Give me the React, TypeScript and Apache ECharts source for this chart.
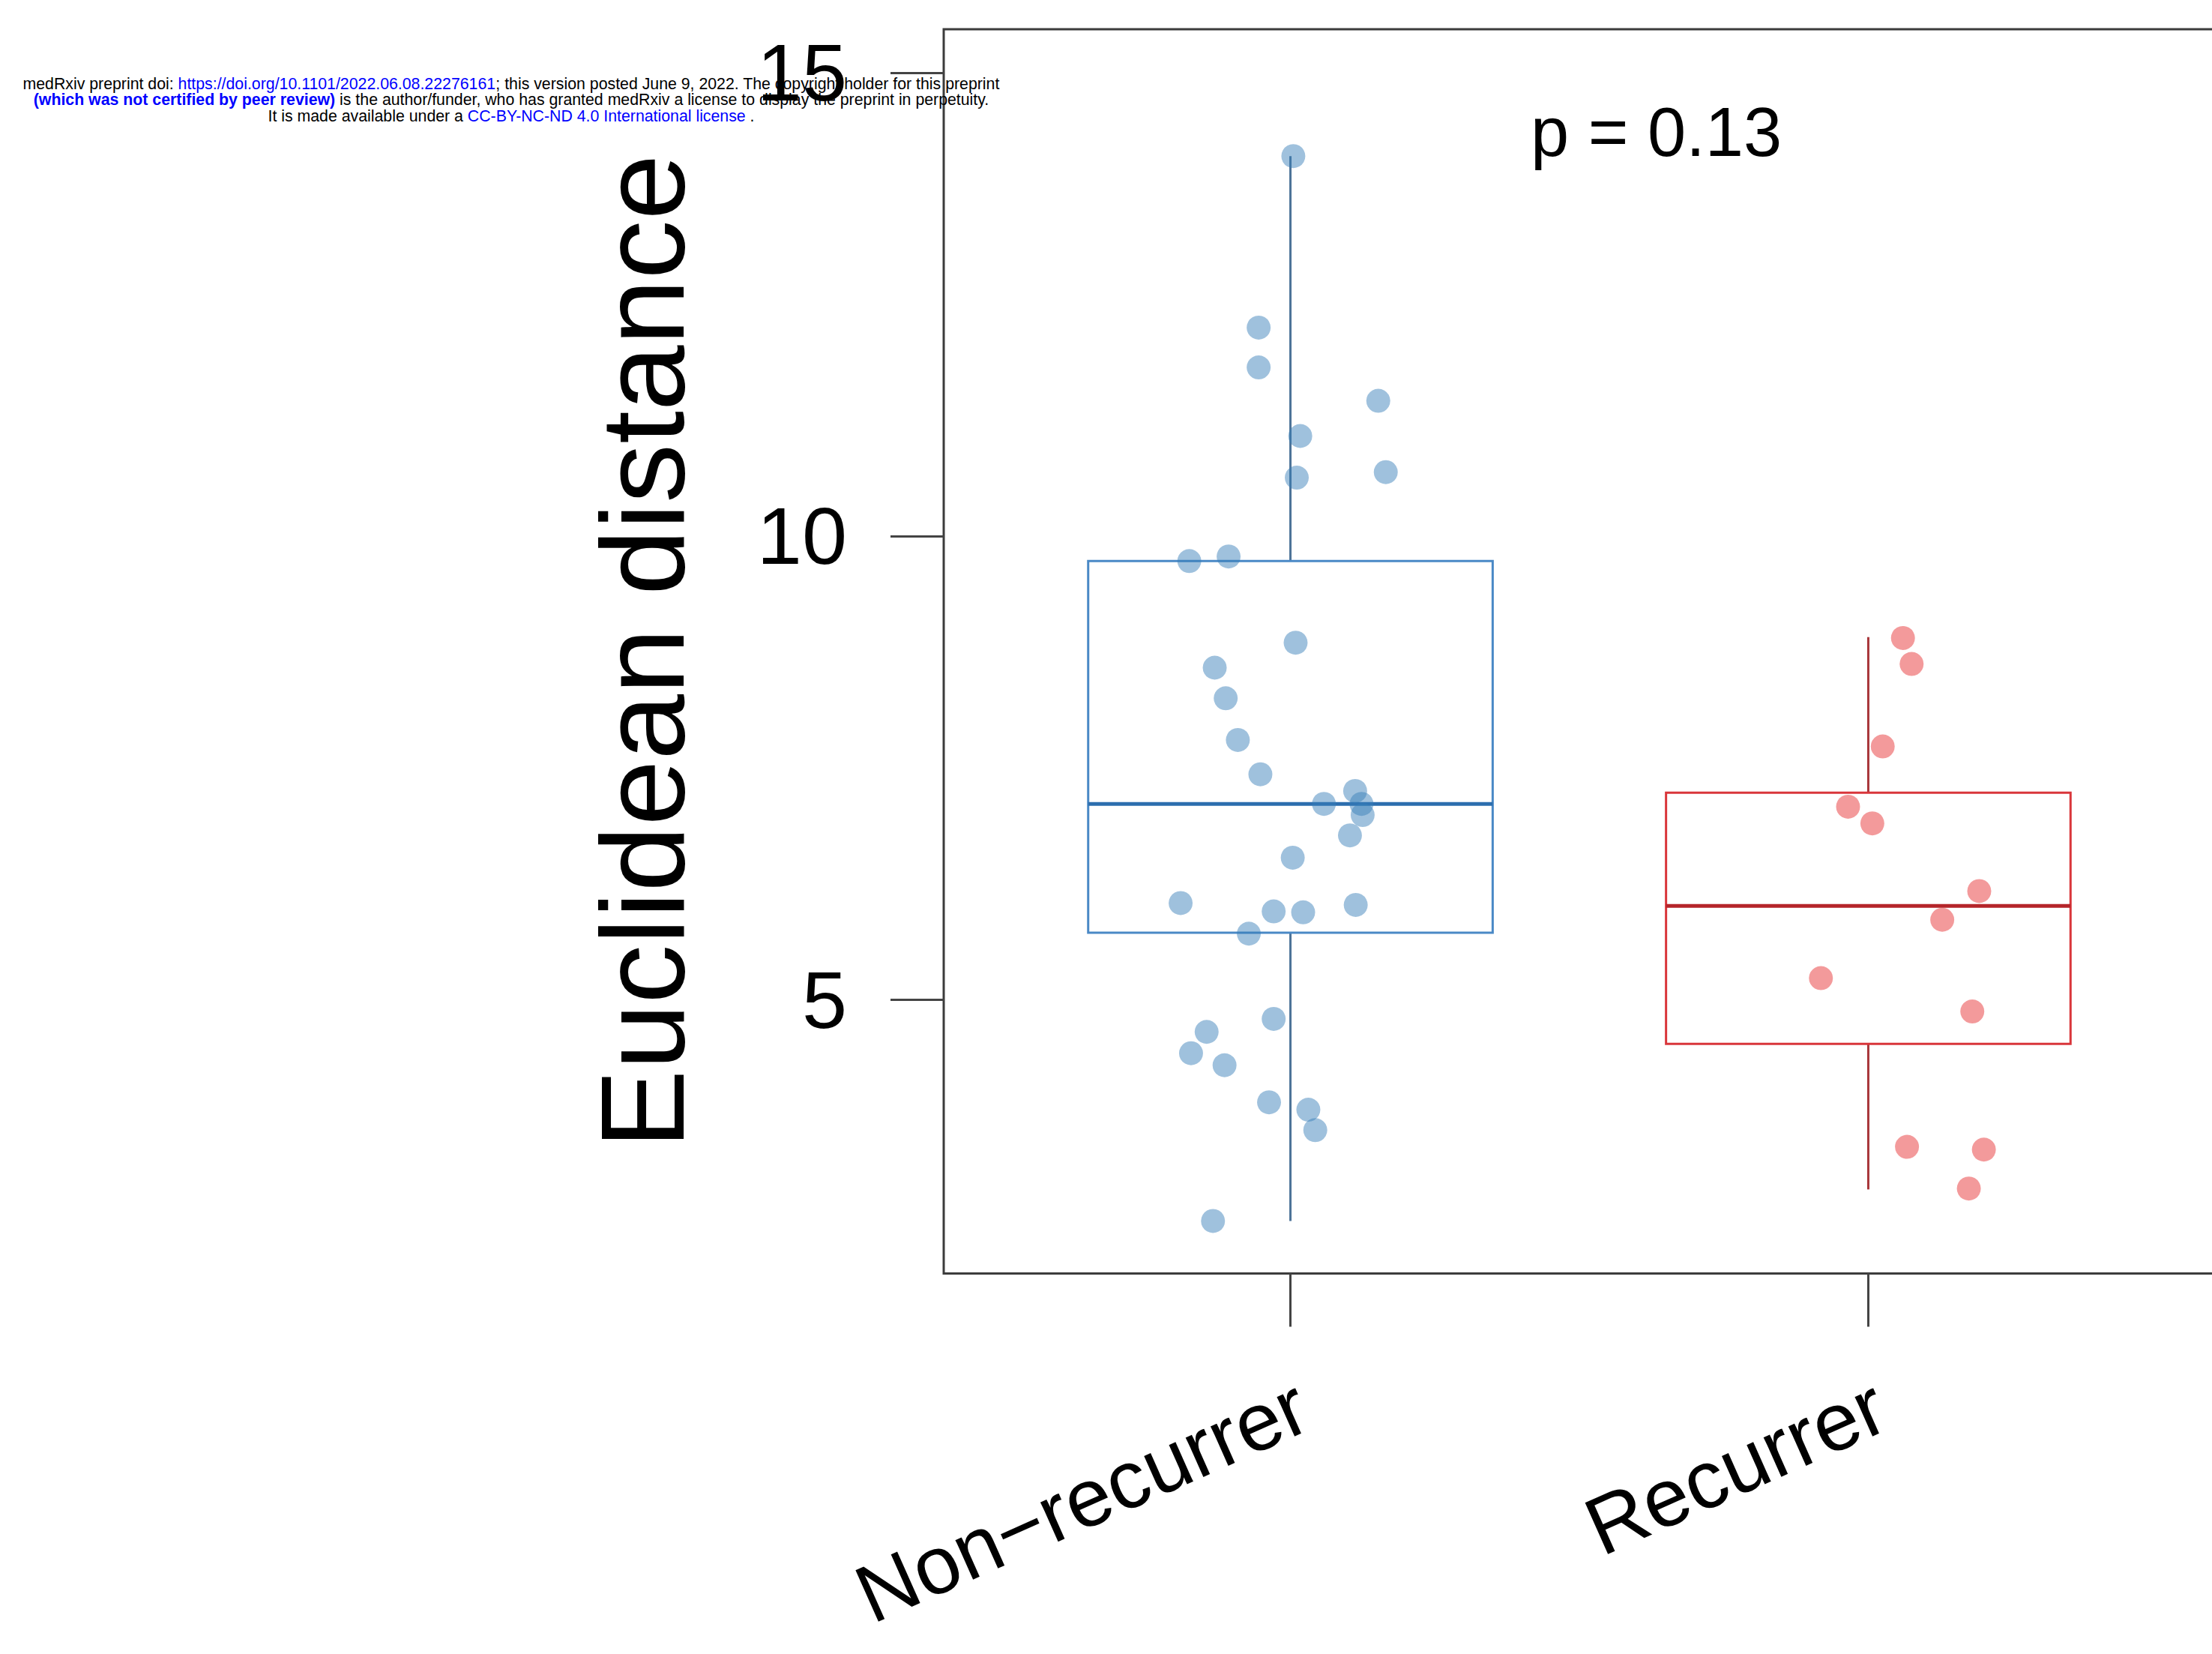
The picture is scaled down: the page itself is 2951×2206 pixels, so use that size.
import React, { useEffect, useRef } from 'react';
import * as echarts from 'echarts';

// ---------- data ----------
const CATEGORIES = ['Non\u2212recurrer', 'Recurrer'];
const CATEGORY_POS = [1, 2];
const Y_TICKS = [5, 10, 15];

// box stats: [min, Q1, median, Q3, max]
const NONREC_BOX = [2.61, 5.72, 7.11, 9.73, 14.1];
const REC_BOX = [2.95, 4.52, 6.01, 7.23, 8.91];

const NONREC_VALUES = [
  14.1, 12.25, 11.82, 11.46, 11.08, 10.63, 10.69, 9.73, 9.78, 8.85, 8.58, 8.25,
  7.8, 7.43, 7.25, 7.11, 7.11, 6.99, 6.77, 6.53, 6.04, 6.02, 5.95, 5.94, 5.71,
  4.79, 4.65, 4.42, 4.29, 3.89, 3.81, 3.59, 2.61,
];
const NONREC_JITTER = [
  0.005, -0.055, -0.055, 0.152, 0.017, 0.011, 0.165, -0.175, -0.107, 0.009,
  -0.131, -0.112, -0.091, -0.052, 0.112, 0.058, 0.123, 0.125, 0.103, 0.004,
  -0.19, 0.113, -0.029, 0.022, -0.072, -0.029, -0.145, -0.172, -0.114, -0.037,
  0.031, 0.043, -0.134,
];
const REC_VALUES = [8.9, 8.62, 7.73, 7.08, 6.9, 6.17, 5.86, 5.23, 4.87, 3.41, 3.38, 2.96];
const REC_JITTER = [0.06, 0.075, 0.025, -0.035, 0.007, 0.192, 0.128, -0.082, 0.18, 0.067, 0.2, 0.174];

const P_LABEL = 'p = 0.13';
const Y_TITLE = 'Euclidean distance';

const HEADER_TEXT =
  '{n|medRxiv preprint doi: }{l|https://doi.org/10.1101/2022.06.08.22276161}{n|; this version posted June 9, 2022. The copyright holder for this preprint}\n' +
  '{lb|(which was not certified by peer review)}{n| is the author/funder, who has granted medRxiv a license to display the preprint in perpetuity.}\n' +
  '{n|It is made available under a }{l|CC-BY-NC-ND 4.0 International license}{n| .}';

// ---------- styles ----------
const FONT = '"Liberation Sans", Arial, Helvetica, sans-serif';
const BOX_WIDTH = 0.7;
const BOX_STYLES = [
  { border: '#4a89c6', median: '#2c6eae', whisker: '#4d7398' },
  { border: '#d9363b', median: '#b5252a', whisker: '#a8363a' },
];
const POINT_COLORS = ['rgba(55,126,184,0.6)', 'rgba(228,26,28,0.55)'];
const HEADER_SIZE = 21.3;

export default function App() {
  const ref = useRef<HTMLDivElement>(null);

  useEffect(() => {
    if (!ref.current) return;
    const chart = echarts.init(ref.current, null, { renderer: 'svg' });

    const boxData = [
      [CATEGORY_POS[0], ...NONREC_BOX],
      [CATEGORY_POS[1], ...REC_BOX],
    ];
    const nonrecPts = NONREC_VALUES.map((v, i) => [CATEGORY_POS[0] + NONREC_JITTER[i], v]);
    const recPts = REC_VALUES.map((v, i) => [CATEGORY_POS[1] + REC_JITTER[i], v]);

    const option: any = {
      animation: false,
      textStyle: { fontFamily: FONT },
      grid: {
        left: 1259,
        top: 39,
        right: -4,
        bottom: 507.5,
        show: true,
        borderColor: '#3c3c3c',
        borderWidth: 3,
        backgroundColor: 'transparent',
        containLabel: false,
        outerBoundsMode: 'none',
      },
      xAxis: {
        type: 'value',
        min: 0.4,
        max: 2.6,
        splitLine: { show: false },
        axisLine: { show: false },
        axisTick: {
          show: true,
          customValues: CATEGORY_POS,
          length: 71,
          lineStyle: { color: '#444', width: 3 },
        },
        axisLabel: {
          customValues: CATEGORY_POS,
          formatter: (v: number) => {
            const idx = CATEGORY_POS.indexOf(Math.round(v));
            return idx >= 0 ? CATEGORIES[idx] : '';
          },
          rotate: 24,
          margin: 178,
          fontSize: 109,
          color: '#000',
          fontFamily: FONT,
          padding: [0, -18, 0, 0],
        },
      },
      yAxis: {
        type: 'value',
        min: 2.043,
        max: 15.469,
        splitLine: { show: false },
        axisLine: { show: false },
        axisTick: {
          show: true,
          customValues: Y_TICKS,
          length: 71,
          lineStyle: { color: '#444', width: 3 },
        },
        axisLabel: {
          customValues: Y_TICKS,
          margin: 129,
          fontSize: 108,
          color: '#000',
          fontFamily: FONT,
        },
        name: Y_TITLE,
        nameLocation: 'middle',
        nameGap: 323,
        nameTextStyle: { fontSize: 158, color: '#000', fontFamily: FONT },
      },
      series: [
        {
          type: 'custom',
          data: boxData,
          encode: { x: 0, y: [1, 2, 3, 4, 5] },
          z: 2,
          renderItem: (params: any, api: any) => {
            const x = api.value(0);
            const mn = api.value(1);
            const q1 = api.value(2);
            const md = api.value(3);
            const q3 = api.value(4);
            const mx = api.value(5);
            const halfW = api.size([BOX_WIDTH, 0])[0] / 2;
            const pMin = api.coord([x, mn]);
            const pQ1 = api.coord([x, q1]);
            const pMd = api.coord([x, md]);
            const pQ3 = api.coord([x, q3]);
            const pMax = api.coord([x, mx]);
            const st = BOX_STYLES[params.dataIndex];
            return {
              type: 'group',
              children: [
                {
                  type: 'line',
                  shape: { x1: pMax[0], y1: pMax[1], x2: pQ3[0], y2: pQ3[1] },
                  style: { stroke: st.whisker, lineWidth: 3 },
                },
                {
                  type: 'line',
                  shape: { x1: pQ1[0], y1: pQ1[1], x2: pMin[0], y2: pMin[1] },
                  style: { stroke: st.whisker, lineWidth: 3 },
                },
                {
                  type: 'rect',
                  shape: { x: pQ3[0] - halfW, y: pQ3[1], width: 2 * halfW, height: pQ1[1] - pQ3[1] },
                  style: { fill: 'none', stroke: st.border, lineWidth: 3 },
                },
                {
                  type: 'line',
                  shape: { x1: pMd[0] - halfW, y1: pMd[1], x2: pMd[0] + halfW, y2: pMd[1] },
                  style: { stroke: st.median, lineWidth: 5 },
                },
              ],
            };
          },
        },
        {
          type: 'scatter',
          data: nonrecPts,
          symbol: 'circle',
          symbolSize: 32,
          itemStyle: { color: POINT_COLORS[0] },
          z: 3,
        },
        {
          type: 'scatter',
          data: recPts,
          symbol: 'circle',
          symbolSize: 32,
          itemStyle: { color: POINT_COLORS[1] },
          z: 3,
        },
      ],
      graphic: [
        {
          type: 'text',
          x: 2042,
          y: 176,
          z: 10,
          style: {
            text: P_LABEL,
            fontSize: 92,
            fontFamily: FONT,
            fill: '#000',
            textAlign: 'left',
            textVerticalAlign: 'middle',
          },
        },
        {
          type: 'text',
          x: 682,
          y: 101,
          z: 20,
          style: {
            text: HEADER_TEXT,
            textAlign: 'center',
            textVerticalAlign: 'top',
            fontFamily: FONT,
            fontSize: HEADER_SIZE,
            lineHeight: 21.6,
            rich: {
              n: { fontSize: HEADER_SIZE, lineHeight: 21.6, fill: '#000', fontFamily: FONT },
              l: { fontSize: HEADER_SIZE, lineHeight: 21.6, fill: '#0000ff', fontFamily: FONT },
              lb: { fontSize: HEADER_SIZE, lineHeight: 21.6, fill: '#0000ff', fontWeight: 'bold', fontFamily: FONT },
            },
          },
        },
      ],
    };

    chart.setOption(option);
    return () => {
      chart.dispose();
    };
  }, []);

  return (
    <div
      ref={ref}
      style={{ position: 'absolute', left: 0, top: 0, width: 2951, height: 2206, background: '#fff' }}
    />
  );
}
